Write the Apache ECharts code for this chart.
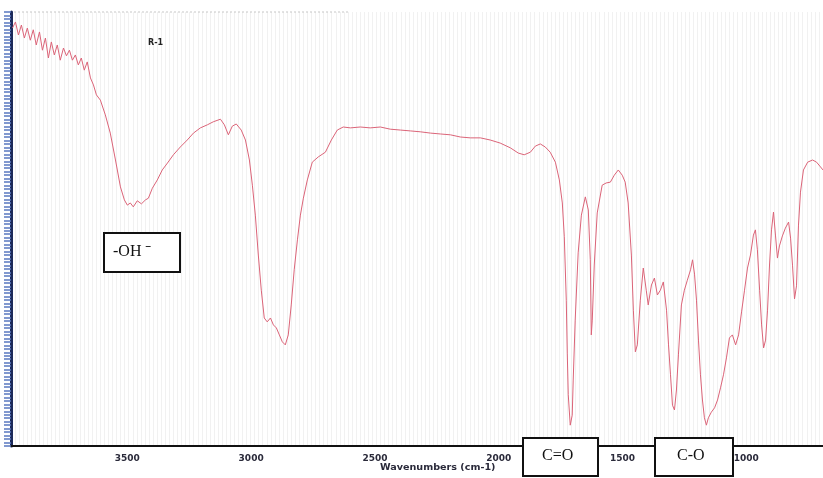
<!DOCTYPE html>
<html style="height: 100%">

<head>
    <meta charset="utf-8">
</head>

<body style="height: 100%; margin: 0; background: #fff">
    <div id="container" style="height: 100%"></div>
    <script type="text/javascript" src="https://cdn.jsdelivr.net/npm/echarts@6/dist/echarts.min.js"></script>
    <script type="text/javascript">
        // wavenumber (cm-1)
        var wavenumbers = [
            3964, 3952, 3940, 3928, 3916, 3904, 3892, 3880, 3868, 3855, 3843, 3831, 3819, 3807, 3795, 3783,
            3771, 3758, 3746, 3734, 3722, 3710, 3698, 3686, 3674, 3662, 3649, 3637, 3625, 3609, 3589, 3569,
            3548, 3528, 3512, 3500, 3488, 3476, 3460, 3443, 3427, 3415, 3399, 3379, 3359, 3338, 3314, 3286,
            3258, 3233, 3205, 3177, 3153, 3124, 3108, 3092, 3076, 3060, 3040, 3023, 3007, 2995, 2983, 2971,
            2959, 2947, 2935, 2922, 2910, 2898, 2886, 2874, 2862, 2850, 2838, 2826, 2813, 2801, 2789, 2773,
            2753, 2729, 2700, 2676, 2652, 2628, 2599, 2559, 2519, 2478, 2438, 2397, 2357, 2317, 2276, 2236,
            2195, 2155, 2115, 2074, 2034, 1994, 1953, 1921, 1897, 1872, 1852, 1832, 1812, 1792, 1771, 1755,
            1743, 1735, 1727, 1723, 1719, 1711, 1703, 1699, 1691, 1679, 1666, 1650, 1638, 1630, 1626, 1622,
            1614, 1602, 1582, 1566, 1549, 1533, 1517, 1501, 1489, 1477, 1464, 1456, 1448, 1440, 1428, 1416,
            1404, 1396, 1383, 1371, 1359, 1347, 1335, 1322, 1314, 1306, 1298, 1290, 1282, 1274, 1262, 1250,
            1238, 1225, 1217, 1209, 1201, 1193, 1185, 1177, 1169, 1161, 1153, 1141, 1128, 1116, 1104, 1092,
            1080, 1068, 1056, 1043, 1031, 1019, 1007, 995, 983, 971, 963, 955, 946, 938, 930, 922,
            914, 906, 898, 890, 882, 874, 866, 854, 842, 829, 821, 813, 805, 797, 789, 781,
            769, 752, 732, 716, 700, 690
        ];
        // transmittance (%)
        var transmittance = [
            96.3, 97.7, 94.7, 97.0, 94.0, 96.3, 93.5, 95.9, 92.4, 95.4, 91.2, 94.0, 89.4, 93.1, 90.1, 92.4,
            88.9, 91.7, 89.9, 91.2, 88.9, 90.1, 87.8, 89.4, 86.6, 88.5, 84.8, 83.2, 80.9, 79.7, 76.3, 72.1,
            65.9, 59.7, 56.7, 55.5, 56.0, 55.1, 56.5, 55.8, 56.7, 57.1, 59.4, 61.3, 63.6, 65.2, 67.1, 68.9,
            70.5, 72.1, 73.3, 74.0, 74.7, 75.3, 74.0, 71.7, 73.7, 74.2, 72.8, 70.5, 65.9, 60.1, 53.2, 44.0,
            35.9, 29.5, 28.6, 29.5, 27.9, 27.2, 25.6, 24.0, 23.3, 25.6, 32.5, 40.6, 47.5, 53.2, 57.1, 61.3,
            65.4, 66.6, 67.7, 70.5, 72.8, 73.5, 73.3, 73.5, 73.3, 73.5, 73.0, 72.8, 72.6, 72.4, 72.1, 71.9,
            71.7, 71.2, 71.0, 71.0, 70.5, 69.8, 68.7, 67.5, 67.1, 67.7, 69.1, 69.6, 68.9, 67.7, 65.4, 61.3,
            56.0, 48.2, 33.6, 21.4, 11.8, 4.8, 7.1, 15.2, 29.0, 44.5, 53.2, 57.4, 54.4, 42.9, 25.6, 29.0,
            41.7, 53.7, 60.1, 60.6, 60.8, 62.4, 63.6, 62.4, 60.8, 56.0, 44.0, 31.3, 21.7, 23.3, 33.6, 41.0,
            35.9, 32.5, 37.1, 38.7, 34.8, 35.9, 37.8, 31.3, 23.3, 16.4, 9.4, 8.3, 12.9, 21.0, 32.5, 35.9,
            38.2, 40.6, 42.9, 39.6, 33.6, 24.4, 16.4, 10.6, 6.5, 4.8, 6.5, 7.8, 8.8, 10.6, 13.4, 16.4,
            20.3, 24.9, 25.6, 23.3, 25.6, 30.9, 35.9, 41.0, 44.0, 48.6, 49.8, 45.2, 35.9, 27.9, 22.6, 24.4,
            31.3, 41.7, 49.8, 53.9, 48.6, 43.3, 46.1, 48.4, 50.2, 51.6, 47.9, 41.5, 33.9, 36.9, 50.9, 58.5,
            63.6, 65.4, 65.9, 65.4, 64.3, 63.6
        ];
        var tickLabels = [1000, 1500, 2000, 2500, 3000, 3500];
        var bandLabels = ['-OH ˉ', 'C=O', 'C-O'];

        var points = wavenumbers.map(function (w, i) {
            return [w, transmittance[i]];
        });

        var dom = document.getElementById("container");
        var myChart = echarts.init(dom);
        var option = {
            animation: false,
            backgroundColor: '#fff',
            grid: {
                left: 11,
                right: 0,
                top: 12,
                bottom: 32
            },
            xAxis: [{
                type: 'value',
                inverse: true,
                min: 690,
                max: 3970,
                axisLine: { lineStyle: { color: '#111', width: 2 } },
                axisTick: { show: false },
                splitLine: { show: false },
                axisLabel: {
                    customValues: tickLabels,
                    formatter: function (v) { return String(v); },
                    margin: 8,
                    fontFamily: 'DejaVu Sans',
                    fontWeight: 'bold',
                    fontSize: 9,
                    color: '#2a2a3a'
                }
            }, {
                // faint vertical scan stripes
                type: 'value',
                min: 0,
                max: 200,
                interval: 1,
                position: 'top',
                axisLine: { show: false },
                axisTick: { show: false },
                axisLabel: { show: false },
                splitLine: { show: true, lineStyle: { color: '#f1f1f1', width: 1 } }
            }],
            yAxis: {
                type: 'value',
                min: 0,
                max: 100,
                interval: 0.8,
                axisLine: { show: true, lineStyle: { color: '#1c2a5a', width: 3 } },
                axisTick: { show: true, length: 7, lineStyle: { color: '#5a78c0', width: 1.5 } },
                axisLabel: { show: false },
                splitLine: { show: false }
            },
            series: [{
                type: 'line',
                data: points,
                showSymbol: false,
                smooth: false,
                z: 5,
                lineStyle: { color: '#db6478', width: 1 }
            }],
            graphic: [
                {
                    type: 'line',
                    z: 100,
                    shape: { x1: 14, y1: 12, x2: 350, y2: 12 },
                    style: { stroke: '#c8c8c8', lineWidth: 1, lineDash: [2, 2] }
                },
                {
                    type: 'text',
                    z: 100,
                    left: 148,
                    top: 39,
                    style: { text: 'R-1', font: 'bold 8px "DejaVu Sans"', fill: '#222' }
                },
                {
                    type: 'text',
                    z: 100,
                    left: 380,
                    top: 464,
                    scaleX: 1.2,
                    style: { text: 'Wavenumbers (cm-1)', font: 'bold 8px "DejaVu Sans"', fill: '#2a2a3a' }
                },
                {
                    type: 'group',
                    z: 100,
                    left: 103,
                    top: 232,
                    children: [
                        { type: 'rect', z: 100, shape: { x: 0, y: 0, width: 76, height: 39 }, style: { fill: '#fff', stroke: '#111', lineWidth: 2 } },
                        { type: 'text', z: 101, x: 9, y: 11, style: { text: bandLabels[0], font: '16px "Liberation Serif"', fill: '#111' } }
                    ]
                },
                {
                    type: 'group',
                    z: 100,
                    left: 522,
                    top: 437,
                    children: [
                        { type: 'rect', z: 100, shape: { x: 0, y: 0, width: 75, height: 38 }, style: { fill: '#fff', stroke: '#111', lineWidth: 2 } },
                        { type: 'text', z: 101, x: 19, y: 10, style: { text: bandLabels[1], font: '16px "Liberation Serif"', fill: '#111' } }
                    ]
                },
                {
                    type: 'group',
                    z: 100,
                    left: 654,
                    top: 437,
                    children: [
                        { type: 'rect', z: 100, shape: { x: 0, y: 0, width: 78, height: 38 }, style: { fill: '#fff', stroke: '#111', lineWidth: 2 } },
                        { type: 'text', z: 101, x: 22, y: 10, style: { text: bandLabels[2], font: '16px "Liberation Serif"', fill: '#111' } }
                    ]
                }
            ]
        };
        myChart.setOption(option, true);
    </script>
</body>

</html>
